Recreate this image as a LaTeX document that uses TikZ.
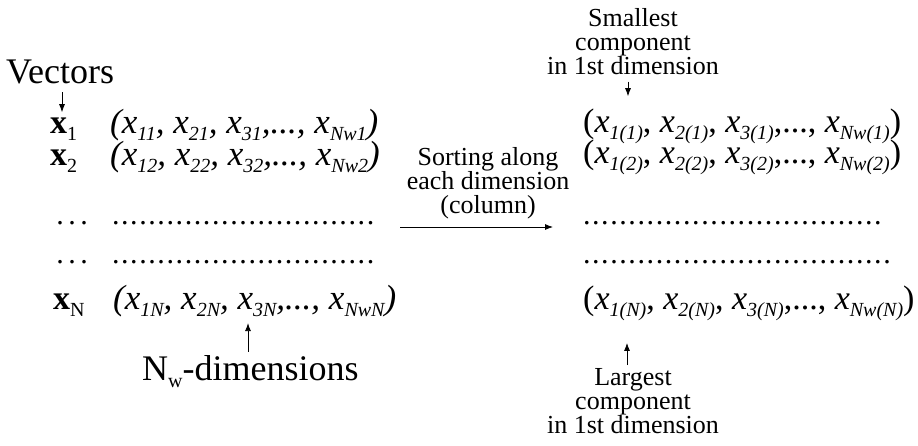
\documentclass[tikz,border=0pt]{standalone}
\usepackage{fontspec}
\setmainfont{Liberation Serif}
\usetikzlibrary{arrows.meta}
\newcommand{\lo}[1]{\raisebox{-0.22em}{\fontsize{20}{20}\selectfont #1}}
\newcommand{\vx}[1]{\textit{x}\lo{\itshape #1}}
\newcommand{\dotrow}[2]{\makebox[#1][l]{\leaders\hbox to #2{\hss.\hss}\hfill}}

\begin{document}
\begin{tikzpicture}[
    x=1pt,y=1pt,
    arrow/.style={-{Latex[length=8pt,width=6pt]}, line width=0.8pt},
    lbl/.style={inner sep=0pt, anchor=base west},
    row/.style={lbl, font=\fontsize{34}{36}\selectfont},
    dots/.style={lbl, font=\fontsize{30}{30}\selectfont},
    note/.style={inner sep=0pt, align=center, font=\fontsize{26}{24}\selectfont}
]
    \useasboundingbox (0,0) rectangle (918,-445);

    % vstupni vektory
    \node[lbl, font=\fontsize{36}{36}\selectfont] (vec) at (6,-83) {Vectors};
    \node[row] (v1) at (50,-133) {\textbf{x}\lo{1}};
    \node[row] (v2) at (50,-165) {\textbf{x}\lo{2}};
    \node[dots] (e3) at (54,-224) {\dotrow{36pt}{12pt}};
    \node[dots] (e4) at (54,-263) {\dotrow{36pt}{12pt}};
    \node[row] (vN) at (53,-309) {\textbf{x}\lo{N}};

    \node[row, font=\fontsize{35}{36}\selectfont\itshape] (t1) at (110,-133)
        {(\vx{11}, \vx{21}, \vx{31},..., \vx{Nw1})};
    \node[row, font=\fontsize{35}{36}\selectfont\itshape] (t2) at (110,-165)
        {(\vx{12}, \vx{22}, \vx{32},..., \vx{Nw2})};
    \node[dots] (t3) at (111,-224) {\dotrow{264pt}{9.1pt}};
    \node[dots] (t4) at (111,-263) {\dotrow{264pt}{9.1pt}};
    \node[row, font=\fontsize{35}{36}\selectfont\itshape] (tN) at (113,-309)
        {(\vx{1N}, \vx{2N}, \vx{3N},..., \vx{NwN})};

    \node[lbl, font=\fontsize{36}{36}\selectfont] (dim) at (142,-380)
        {N\lo{w}-dimensions};

    \draw[arrow] ([xshift=56pt,yshift=-9pt]vec.base west) -- ([xshift=12pt,yshift=5pt]v1.north west);
    \draw[arrow] ([xshift=106pt,yshift=3pt]dim.north west) -- ([xshift=135pt,yshift=-6pt]tN.south west);

    % trideni
    \coordinate (sL) at (400,-227);
    \coordinate (sR) at (553,-227);
    \node[note, anchor=south] (sort) at (488,-219)
        {Sorting along\\each dimension\\(column)};
    \draw[arrow] (sL) -- (sR);

    % setridene vektory
    \node[note, anchor=north] (small) at (633,-8)
        {Smallest\\component\\in 1st dimension};
    \node[row] (r1) at (583,-132)
        {(\vx{1(1)}, \vx{2(1)}, \vx{3(1)},..., \vx{Nw(1)})};
    \node[row] (r2) at (583,-163)
        {(\vx{1(2)}, \vx{2(2)}, \vx{3(2)},..., \vx{Nw(2)})};
    \node[dots] (r3) at (582,-224) {\dotrow{305pt}{9.1pt}};
    \node[dots] (r4) at (582,-263) {\dotrow{313pt}{9.1pt}};
    \node[row] (rN) at (583,-309)
        {(\vx{1(N)}, \vx{2(N)}, \vx{3(N)},..., \vx{Nw(N)})};
    \node[note, anchor=north] (large) at (633,-368)
        {Largest\\component\\in 1st dimension};

    \draw[arrow] ([xshift=-5pt,yshift=-7pt]small.south) -- ([xshift=45pt,yshift=12pt]r1.north west);
    \draw[arrow] ([xshift=-6pt,yshift=3pt]large.north) -- ([xshift=44pt,yshift=-22pt]rN.south west);
\end{tikzpicture}
\end{document}
